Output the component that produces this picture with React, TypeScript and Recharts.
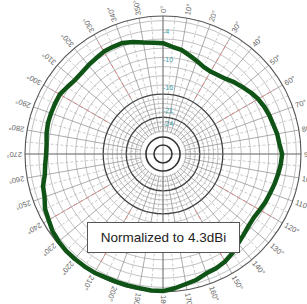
import { RadarChart, Radar, PolarGrid, PolarAngleAxis, PolarRadiusAxis, Customized } from 'recharts';

// compass angles (clockwise from top), one reading every 5 degrees
const angles = [0, 5, 10, 15, 20, 25, 30, 35, 40, 45, 50, 55, 60, 65, 70, 75, 80, 85,
  90, 95, 100, 105, 110, 115, 120, 125, 130, 135, 140, 145, 150, 155, 160, 165, 170, 175,
  180, 185, 190, 195, 200, 205, 210, 215, 220, 225, 230, 235, 240, 245, 250, 255, 260, 265,
  270, 275, 280, 285, 290, 295, 300, 305, 310, 315, 320, 325, 330, 335, 340, 345, 350, 355];
// relative gain in dB
const gain = [-5.9, -6.6, -7.0, -7.8, -8.5, -9.1, -9.3, -9.1, -8.7, -8.0, -7.4, -6.7, -6.1, -5.7,
  -5.4, -5.2, -4.8, -4.6, -4.1, -4.3, -4.6, -4.9, -5.2, -5.4, -5.7, -5.9, -5.7, -5.2, -4.6, -3.7,
  -3.0, -2.6, -2.4, -1.7, -1.3, -0.7, -0.2, -0.2, -0.4, -0.4, -0.4, -0.4, -0.2, -0.2, -0.2, -0.2,
  -0.4, -0.7, -1.3, -1.7, -2.6, -3.0, -3.9, -4.3, -4.6, -4.6, -4.3, -4.1, -4.1, -4.1, -4.1, -4.6,
  -5.0, -5.0, -4.8, -4.6, -4.3, -4.3, -4.3, -4.8, -5.4, -5.7];
const labelAngles = [0, 10, 20, 30, 40, 50, 60, 70, 80, 90, 100, 110, 120, 130, 140, 150, 160, 170,
  180, 190, 200, 210, 220, 230, 240, 250, 260, 270, 280, 290, 300, 310, 320, 330, 340, 350];
const ringLevels = [-25, -24, -23, -21, -20, -19, -18, -15, -13, -11, -9, -7, -5, -3, -1];
const heavyRings = [-22, -17];
const radiusTicks = [-4, -10, -16, -21, -24];
const redAngles = [30, 60, 120, 150, 210, 240, 300, 330];

const MIN_DB = -30;
const CX = 163;
const CY = 154;
const R = 138;

const data = angles.map((a, i) => ({ angle: String(a), gain: gain[i] }));
const toR = (db: number) => ((db - MIN_DB) / -MIN_DB) * R;
const toPolar = (deg: number) => 90 - deg;
const pt = (deg: number, r: number) => {
  const t = ((deg - 90) * Math.PI) / 180;
  return { x: CX + r * Math.cos(t), y: CY + r * Math.sin(t) };
};

const solidSpokes = labelAngles.map(toPolar);
const dashedSpokes = labelAngles.map((a) => toPolar(a + 5));

function AngleTick(props: any) {
  const deg = Number(props.payload.value);
  if (deg % 10 !== 0) return null;
  const p = pt(deg, R + 3);
  return (
    <text
      x={p.x}
      y={p.y}
      transform={`rotate(${deg - 90}, ${p.x}, ${p.y})`}
      textAnchor="start"
      dominantBaseline="central"
      fontSize={7.5}
      fontFamily="Liberation Sans, Arial, sans-serif"
      fill="#666"
    >
      {deg}°
    </text>
  );
}

function CenterDetail() {
  return (
    <g>
      {redAngles.map((a) => {
        const p1 = pt(a, toR(-16));
        const p2 = pt(a, toR(-2));
        return <line key={a} x1={p1.x} y1={p1.y} x2={p2.x} y2={p2.y} stroke="#e58080" strokeWidth={0.9} strokeDasharray="4 3" />;
      })}
      {heavyRings.map((v) => (
        <circle key={v} cx={CX} cy={CY} r={toR(v)} fill="none" stroke="#444" strokeWidth={1.3} />
      ))}
      <circle cx={CX} cy={CY} r={22} fill="#fff" />
      {[0, 90].map((a) => {
        const p1 = pt(a, R);
        const p2 = pt(a + 180, R);
        return <line key={a} x1={p1.x} y1={p1.y} x2={p2.x} y2={p2.y} stroke="#777" strokeWidth={0.8} />;
      })}
      <circle cx={CX} cy={CY} r={17} fill="none" stroke="#333" strokeWidth={1.6} />
      <circle cx={CX} cy={CY} r={9} fill="none" stroke="#333" strokeWidth={1.6} />
      <circle cx={CX} cy={CY} r={R} fill="none" stroke="#555" strokeWidth={1.1} />
    </g>
  );
}

export default function App() {
  return (
    <div style={{ position: 'relative', width: 307, height: 304, background: '#fff' }}>
      <style>{'body{margin:0}'}</style>
      <RadarChart width={307} height={304} data={data} cx={CX} cy={CY} outerRadius={R} margin={{ top: 0, right: 0, bottom: 0, left: 0 }}>
        <PolarGrid gridType="circle" polarAngles={[]} radialLines={false} polarRadius={ringLevels.map(toR)} stroke="#999" strokeWidth={0.6} />
        <PolarGrid gridType="circle" polarRadius={[]} polarAngles={solidSpokes} stroke="#888" strokeWidth={0.7} />
        <PolarGrid gridType="circle" polarRadius={[]} polarAngles={dashedSpokes} stroke="#aaa" strokeWidth={0.6} strokeDasharray="3 2" />
        <Customized component={CenterDetail} />
        <PolarAngleAxis dataKey="angle" tick={AngleTick} tickLine={false} axisLine={false} />
        <PolarRadiusAxis
          angle={90}
          domain={[MIN_DB, 0]}
          ticks={radiusTicks}
          type="number"
          allowDataOverflow
          axisLine={false}
          tickLine={false}
          tick={{ fill: '#3aa0a8', fontSize: 7, fontFamily: 'Liberation Sans, Arial, sans-serif' }}
        />
        <Radar dataKey="gain" stroke="#0f5416" strokeWidth={4.5} strokeLinejoin="round" fill="none" fillOpacity={0} dot={false} isAnimationActive={false} />
      </RadarChart>
      <div
        style={{
          position: 'absolute',
          left: 87,
          top: 222,
          width: 151,
          height: 29,
          border: '1px solid #555',
          background: '#fff',
          display: 'flex',
          alignItems: 'center',
          justifyContent: 'center',
          fontFamily: 'Liberation Sans, Arial, sans-serif',
          fontSize: 13.5,
          color: '#222',
        }}
      >
        Normalized to 4.3dBi
      </div>
    </div>
  );
}
